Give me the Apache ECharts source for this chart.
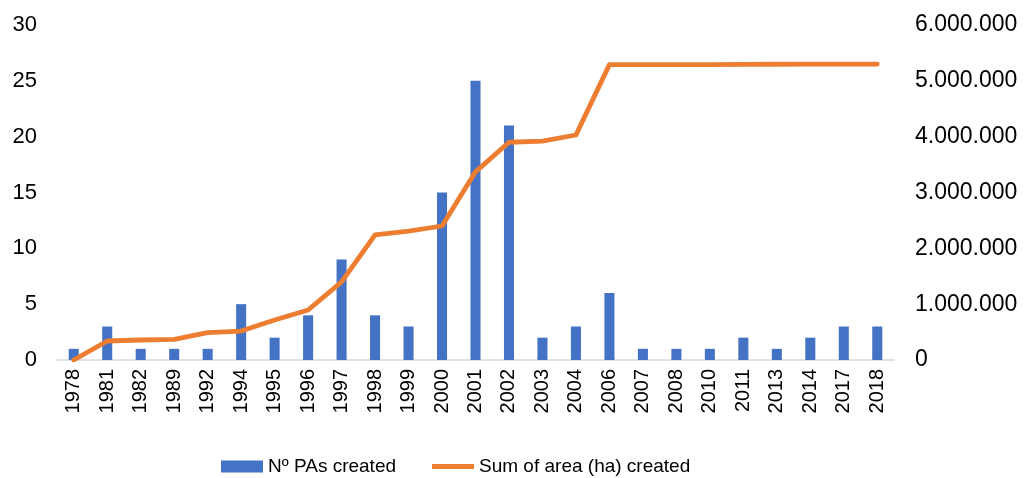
<!DOCTYPE html>
<html><head><meta charset="utf-8">
<script src="https://cdn.jsdelivr.net/npm/echarts@6/dist/echarts.min.js"></script>
<style>html,body{margin:0;padding:0;background:#fff}#c{width:1025px;height:478px}</style>
</head><body><div id="c"></div>
<script>
var years = ['1978','1981','1982','1989','1992','1994','1995','1996','1997','1998','1999','2000','2001','2002','2003','2004','2006','2007','2008','2010','2011','2013','2014','2017','2018'];
var pasCreated = [1,3,1,1,1,5,2,4,9,4,3,15,25,21,2,3,6,1,1,1,2,1,2,3,3];
var areaSum = [0,340000,358000,370000,489000,519000,716000,895000,1400000,2240000,2310000,2400000,3370000,3900000,3920000,4030000,5290000,5290000,5290000,5292000,5295000,5297000,5298000,5299000,5300000];
var leftTicks = {min:0, max:30, interval:5};
var rightTicks = {min:0, max:6000000, interval:1000000};

var font = 'Liberation Sans, Arial, sans-serif';
function fmt(v){ return String(Math.round(v)).replace(/\B(?=(\d{3})+(?!\d))/g,'.'); }
var chart = echarts.init(document.getElementById('c'));
chart.setOption({
  animation:false,
  grid:{left:57,right:131,top:25,bottom:118,containLabel:false},
  legend:{top:452,left:216,itemGap:36,itemWidth:42,itemHeight:12,
    textStyle:{fontFamily:font,fontSize:19,color:'#000'},
    data:[{name:'Nº PAs created',icon:'rect'},
          {name:'Sum of area (ha) created',icon:'path://M0,0 M42,12 M0,3.6 L42,3.6 L42,8.4 L0,8.4 Z',itemStyle:{color:'#ED7D31'}}]},
  xAxis:{type:'category',data:years,
    axisLine:{lineStyle:{color:'#D9D9D9',width:1.5}},axisTick:{show:false},
    axisLabel:{rotate:90,fontFamily:font,fontSize:20,color:'#000',margin:9,interval:0}},
  yAxis:[
    {type:'value',min:leftTicks.min,max:leftTicks.max,interval:leftTicks.interval,
     splitLine:{show:false},axisLine:{show:false},axisTick:{show:false},
     axisLabel:{fontFamily:font,fontSize:22,color:'#000',margin:20}},
    {type:'value',min:rightTicks.min,max:rightTicks.max,interval:rightTicks.interval,
     splitLine:{show:false},axisLine:{show:false},axisTick:{show:false},
     axisLabel:{fontFamily:font,fontSize:23,color:'#000',margin:21,formatter:fmt}}
  ],
  series:[
    {name:'Nº PAs created',type:'bar',data:pasCreated,barWidth:'30%',itemStyle:{color:'#4472C4'}},
    {name:'Sum of area (ha) created',type:'line',yAxisIndex:1,data:areaSum,symbol:'none',
     lineStyle:{color:'#ED7D31',width:4.8,cap:'round',join:'round'},itemStyle:{color:'#ED7D31'}}
  ]
});
</script></body></html>
